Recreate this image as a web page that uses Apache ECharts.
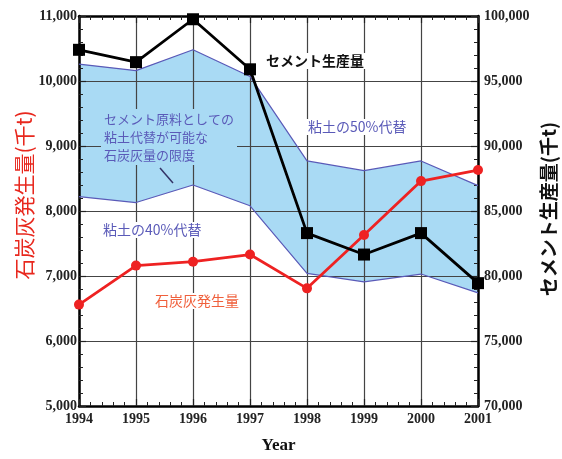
<!DOCTYPE html>
<html><head><meta charset="utf-8">
<script src="https://cdn.jsdelivr.net/npm/echarts@6/dist/echarts.min.js"></script>
<style>html,body{margin:0;padding:0;background:#fff}#c{width:562px;height:459px}</style>
</head><body><div id="c"></div>
<script>
const years = [1994, 1995, 1996, 1997, 1998, 1999, 2000, 2001];
const coalAsh = [6560, 7160, 7220, 7330, 6810, 7630, 8460, 8630];
const cement = [97400, 96450, 99750, 95900, 83300, 81650, 83300, 79450];
const upper50 = [10260, 10160, 10480, 10070, 8770, 8620, 8770, 8390];
const lower40 = [8220, 8130, 8400, 8080, 7040, 6910, 7030, 6740];
const leftTicks = [5000, 6000, 7000, 8000, 9000, 10000, 11000];
const rightTicks = [70000, 75000, 80000, 85000, 90000, 95000, 100000];

const pair = arr => years.map((y, i) => [y, arr[i]]);
const fmt = v => v.toLocaleString('en-US');
const serif = 'Liberation Serif';
const purple = '#5a5ab8';
const bandColor = '#a9daf4';

const tickCommon = {
  axisLine: {show: true, lineStyle: {color: '#000', width: 2.5}},
  axisTick: {show: true, inside: true, length: 7, lineStyle: {color: '#222', width: 1.2}},
  minorTick: {show: true, splitNumber: 5, length: 4, lineStyle: {color: '#222', width: 1}}
};

const chart = echarts.init(document.getElementById('c'));
chart.setOption({
  animation: false,
  grid: {left: 79, right: 84, top: 16, bottom: 47},
  xAxis: [
    Object.assign({
      type: 'value', min: years[0], max: years[years.length - 1], interval: 1, position: 'bottom', z: 3,
      axisLabel: {formatter: v => String(v), color: '#222', fontFamily: serif, fontSize: 14, fontWeight: 'bold', margin: 6},
      splitLine: {show: true, lineStyle: {color: '#444', width: 1.2}},
      name: 'Year', nameLocation: 'middle', nameGap: 31,
      nameTextStyle: {fontFamily: serif, fontWeight: 'bold', fontSize: 17, color: '#111'}
    }, tickCommon),
    Object.assign({
      type: 'value', min: years[0], max: years[years.length - 1], interval: 1, position: 'top', z: 3,
      axisLabel: {show: false}, splitLine: {show: false}
    }, tickCommon)
  ],
  yAxis: [
    Object.assign({
      type: 'value', min: leftTicks[0], max: leftTicks[leftTicks.length - 1], interval: 1000, position: 'left', z: 3,
      axisLabel: {formatter: fmt, color: '#222', fontFamily: serif, fontSize: 14, fontWeight: 'bold', margin: 2},
      splitLine: {show: true, lineStyle: {color: '#444', width: 1.2}}
    }, tickCommon),
    Object.assign({
      type: 'value', min: rightTicks[0], max: rightTicks[rightTicks.length - 1], interval: 5000, position: 'right', z: 3,
      axisLabel: {formatter: fmt, color: '#222', fontFamily: serif, fontSize: 14, fontWeight: 'bold', margin: 6},
      splitLine: {show: false}
    }, tickCommon)
  ],
  series: [
    {type: 'line', data: pair(upper50), symbol: 'none', z: 1, silent: true,
     lineStyle: {opacity: 0}, areaStyle: {color: bandColor, opacity: 1, origin: 'start'}},
    {type: 'line', data: pair(lower40), symbol: 'none', z: 1, silent: true,
     lineStyle: {opacity: 0}, areaStyle: {color: '#ffffff', opacity: 1, origin: 'start'}},
    {type: 'line', data: pair(upper50), symbol: 'none', z: 4, lineStyle: {color: purple, width: 1.2}},
    {type: 'line', data: pair(lower40), symbol: 'none', z: 4, lineStyle: {color: purple, width: 1.2}},
    {type: 'line', data: pair(coalAsh), symbol: 'circle', symbolSize: 10, z: 6,
     lineStyle: {color: '#ee2222', width: 2.8}, itemStyle: {color: '#ee2222'}},
    {type: 'line', yAxisIndex: 1, data: pair(cement), symbol: 'rect', symbolSize: 12, z: 7,
     lineStyle: {color: '#000', width: 2.8}, itemStyle: {color: '#000'}}
  ],
  graphic: [
    {type: 'text', x: 24, y: 195, rotation: Math.PI / 2, z: 10,
     style: {text: '石炭灰発生量(千t)', font: '21px "Noto Sans CJK JP"', fill: '#e8281e', align: 'center', verticalAlign: 'middle'}},
    {type: 'text', x: 549, y: 209, rotation: Math.PI / 2, z: 10,
     style: {text: 'セメント生産量(千t)', font: 'bold 19px "Noto Sans CJK JP"', fill: '#111', align: 'center', verticalAlign: 'middle'}},
    {type: 'text', left: 264, top: 53, z: 10,
     style: {text: 'セメント生産量', font: 'bold 14px "Noto Sans CJK JP"', fill: '#111', backgroundColor: '#fff', padding: [1, 2]}},
    {type: 'text', left: 306, top: 119, z: 10,
     style: {text: '粘土の50%代替', font: '14px "Noto Sans CJK JP"', fill: purple, backgroundColor: '#fff', padding: [1, 2]}},
    {type: 'text', left: 101, top: 109, z: 10,
     style: {text: 'セメント原料としての\n粘土代替が可能な\n石炭灰量の限度', font: '13px "Noto Sans CJK JP"', lineHeight: 18, fill: purple, backgroundColor: bandColor, padding: [1, 3]}},
    {type: 'line', z: 10, shape: {x1: 160, y1: 168, x2: 173, y2: 183}, style: {stroke: '#333366', lineWidth: 1.5}},
    {type: 'text', left: 100, top: 222, z: 10,
     style: {text: '粘土の40%代替', font: '14px "Noto Sans CJK JP"', fill: purple, backgroundColor: '#fff', padding: [1, 3]}},
    {type: 'text', left: 152, top: 293, z: 10,
     style: {text: '石炭灰発生量', font: '14px "Noto Sans CJK JP"', fill: '#f0603c', backgroundColor: '#fff', padding: [1, 3]}}
  ]
});
</script></body></html>
